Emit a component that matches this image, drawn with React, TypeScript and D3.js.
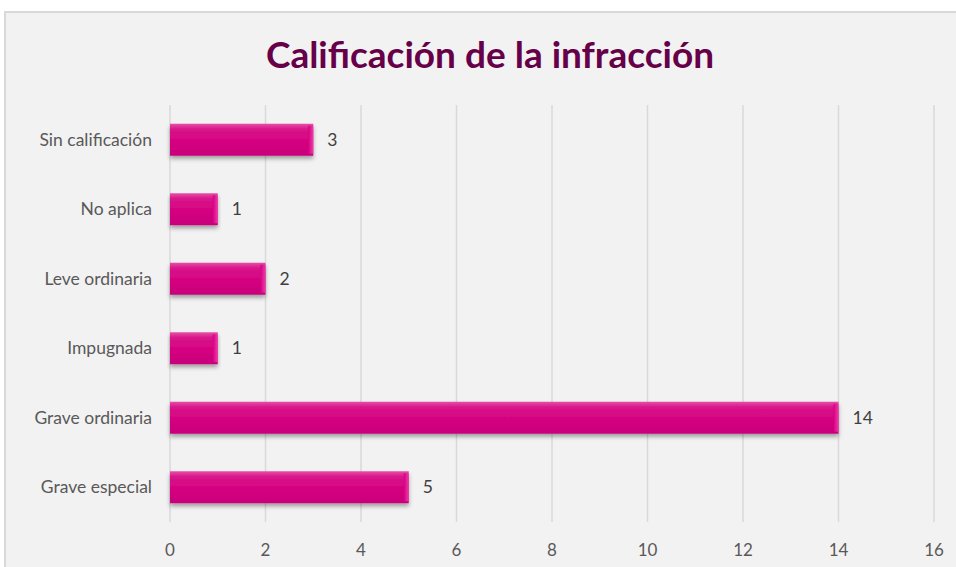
import React from "react";
import * as d3 from "d3";

const categories = ["Sin calificación", "No aplica", "Leve ordinaria", "Impugnada", "Grave ordinaria", "Grave especial"];
const values = [3, 1, 2, 1, 14, 5];
const xTicks = [0, 2, 4, 6, 8, 10, 12, 14, 16];
const title = "Calificación de la infracción";

export default function App() {
  const W = 956, H = 567;
  const x = d3.scaleLinear().domain([0, 16]).range([170, 934]);
  const y = d3.scaleBand<string>().domain(categories).range([105, 522]).paddingInner(0.54).paddingOuter(0.27);
  const font = "Lato, 'Open Sans', sans-serif";
  return (
    <svg width={W} height={H} style={{ position: "absolute", left: 0, top: 0 }}>
      <defs>
        <linearGradient id="barG" x1="0" y1="0" x2="0" y2="1">
          <stop offset="0" stopColor="#e64ea6" />
          <stop offset="0.18" stopColor="#d8148a" />
          <stop offset="0.6" stopColor="#d4007f" />
          <stop offset="1" stopColor="#c8007a" />
        </linearGradient>
        <linearGradient id="capG" x1="0" y1="0" x2="1" y2="0">
          <stop offset="0" stopColor="#d4007f" />
          <stop offset="1" stopColor="#f03aaa" />
        </linearGradient>
        <filter id="sh" x="-5%" y="-20%" width="110%" height="160%">
          <feDropShadow dx="0" dy="3" stdDeviation="2" floodColor="#000" floodOpacity="0.35" />
        </filter>
      </defs>
      <rect x={0} y={0} width={W} height={H} fill="#ffffff" />
      <rect x={5} y={12} width={W} height={H} fill="#f2f2f2" stroke="#d9d9d9" strokeWidth={2} />
      <text x={490} y={68} textAnchor="middle" fontFamily={font} fontWeight={700} fontSize={37} fill="#660048">{title}</text>
      {xTicks.map((t) => (
        <g key={t}>
          <line x1={x(t)} x2={x(t)} y1={105} y2={522} stroke="#d9d9d9" strokeWidth={1.5} />
          <text x={x(t)} y={556} textAnchor="middle" fontFamily={font} fontSize={17} fill="#595959">{t}</text>
        </g>
      ))}
      {categories.map((c, i) => {
        const y0 = y(c)!;
        const bw = y.bandwidth();
        const xe = x(values[i]);
        return (
          <g key={c}>
            <text x={152} y={y0 + bw / 2 + 6} textAnchor="end" fontFamily={font} fontSize={17.5} fill="#595959">{c}</text>
            <rect x={x(0)} y={y0} width={xe - x(0)} height={bw} fill="url(#barG)" filter="url(#sh)" />
            <rect x={xe - 5} y={y0 + 2} width={5} height={bw - 4} fill="url(#capG)" />
            <text x={xe + 14} y={y0 + bw / 2 + 6} fontFamily={font} fontSize={17.5} fill="#404040">{values[i]}</text>
          </g>
        );
      })}
    </svg>
  );
}
